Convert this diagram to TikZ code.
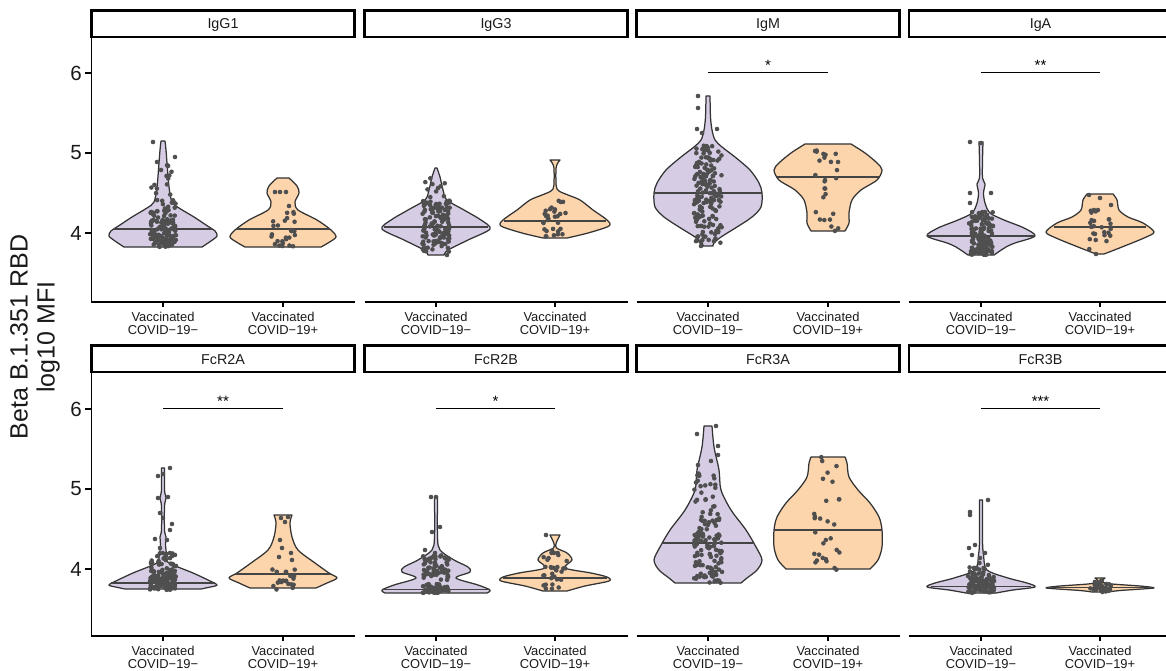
\documentclass[tikz,border=0pt]{standalone}
\usepackage{fontspec}
\setmainfont{Liberation Sans}
\definecolor{vneg}{HTML}{D6CDE5}
\definecolor{vpos}{HTML}{FDD5AD}
\definecolor{vout}{HTML}{333333}
\definecolor{medc}{HTML}{444444}
\definecolor{dotc}{HTML}{4F4F4F}
\definecolor{txt}{HTML}{1A1A1A}
\tikzset{
  violine/.style={draw=vout, line width=1.25pt, line join=round},
  medline/.style={draw=medc, line width=1.1pt},
  axisline/.style={line width=1.4pt, black},
  stripbox/.style={draw=black, line width=2.7pt},
  striptext/.style={font=\fontsize{14.3}{16}\selectfont, text=txt, inner sep=0pt, anchor=base},
  ticklab/.style={font=\fontsize{12.9}{14}\selectfont, text=txt, inner sep=0pt, anchor=base},
  ylab/.style={font=\fontsize{20.5}{22}\selectfont, text=txt, inner sep=0pt, anchor=east},
  sigtext/.style={font=\fontsize{15}{16}\selectfont, inner sep=0pt, anchor=base},
  sigline/.style={line width=1pt, black},
}
% violin: #1 cx, #2 fill, #3 ytop, #4 ybot, #5 right-side coords (w,y), #6 tension
\newcommand\vio[6]{%
  \begin{scope}[shift={(#1,0)}]
    \fill[#2] (-0.5,#3) -- plot[smooth,tension=#6] coordinates {#5} -- (-0.5,#4) -- cycle;
    \fill[#2,xscale=-1] (-0.5,#3) -- plot[smooth,tension=#6] coordinates {#5} -- (-0.5,#4) -- cycle;
    \draw[violine] (0,#3) -- plot[smooth,tension=#6] coordinates {#5} -- (0,#4);
    \draw[violine,xscale=-1] (0,#3) -- plot[smooth,tension=#6] coordinates {#5} -- (0,#4);
  \end{scope}}
\newcommand\med[3]{\draw[medline] ({#1-#3},#2) -- ({#1+#3},#2);}
% jitter: #1 cx, #2 half width, #3 list ytop/ybot/count
\newcommand\jit[3]{%
  \foreach \ya/\yb/\nn in {#3}{%
    \foreach \ii in {1,...,\nn}{%
      \pgfmathsetmacro\xx{#1+#2*rand}%
      \pgfmathsetmacro\yy{\ya+(\yb-\ya)*rnd}%
      \fill[dotc] (\xx,\yy) circle[radius=2.3];
    }}}
\newcommand\pts[1]{\foreach \px/\py in {#1}{\fill[dotc] (\px,\py) circle[radius=2.3];}}
\newcommand\xlab[3]{% #1 cx, #2 axis y, #3 sign
  \node[ticklab] (xl-a-#1-#2) at (#1,{#2+19}) {Vaccinated};
  \node[ticklab] (xl-b-#1-#2) at (#1,{#2+32}) {COVID−19#3};}
\begin{document}
\begin{tikzpicture}[x=1pt,y=-1pt]
\useasboundingbox (0,0) rectangle (1166,671);
\clip (0,0) rectangle (1166,671);
\pgfmathsetseed{4242}

% ---------- strips ----------
\foreach \L/\lab [count=\k] in {91.5/IgG1,364.5/IgG3,636.5/IgM,909/IgA}{
  \draw[stripbox] (\L,10.5) rectangle ({\L+263},37);
  \node[striptext] (s1-\k) at ({\L+131.5},28.8) {\lab};
}
\foreach \L/\lab [count=\k] in {91.5/FcR2A,364.5/FcR2B,636.5/FcR3A,909/FcR3B}{
  \draw[stripbox] (\L,345.5) rectangle ({\L+263},372);
  \node[striptext] (s2-\k) at ({\L+131.5},364.3) {\lab};
}

% ---------- axes ----------
\draw[axisline] (91.5,37) -- (91.5,302) -- (354.5,302);
\draw[axisline] (91.5,372) -- (91.5,636) -- (354.5,636);
\foreach \L in {364.5,636.5,909}{
  \draw[axisline] (\L,302) -- ({\L+263},302);
  \draw[axisline] (\L,636) -- ({\L+263},636);
}
\foreach \y/\v in {73/6,153/5,233/4,409/6,489/5,569/4}{
  \draw[axisline] (85,\y) -- (91.5,\y);
  \node[ylab] (yt-\y) at (82,\y) {\v};
}
\foreach \c in {163,283,436,555,708,828,981,1100}{
  \draw[axisline] (\c,302) -- (\c,306.5);
  \draw[axisline] (\c,636) -- (\c,640.5);
}
\foreach \c/\s in {163/−,283/+,436/−,555/+,708/−,828/+,981/−,1100/+}{
  \xlab{\c}{302}{\s}
  \xlab{\c}{636}{\s}
}
\node[rotate=90, align=center, font=\fontsize{25}{27}\selectfont, text=txt, inner sep=0pt] (ytitle) at (35,337) {Beta B.1.351 RBD\\log10 MFI};

% ---------- violins row 1 ----------
% IgG1
\vio{163}{vneg}{141}{247}{(2,141) (3,150) (4,163) (6,187) (9,202) (16,208) (31,217) (43,225) (52,231) (54,236) (48,241) (39,247)}{0.5}
\med{163}{229}{49}
\vio{283}{vpos}{178}{247}{(6,178) (14,186) (16,193) (12,202) (15,210) (34,220) (48,230) (53,237) (45,243) (38,247)}{0.5}
\med{283}{229}{47}
% IgG3
\vio{436}{vneg}{168}{255}{(1,168) (4,177) (7,190) (11,200) (28,210) (45,220) (54,229) (32,240) (12,250) (8,255)}{0.5}
\med{436}{227}{52}
\vio{555}{vpos}{160}{238}{(5,160) (1.2,167) (1.2,186) (4,191) (13,195) (25,200) (38,210) (52,220) (54,226) (33,233) (12,238)}{0.5}
\med{555}{221}{51}
% IgM
\vio{708}{vneg}{96}{246}{(2,96) (2.5,117) (4,130) (7,140) (14,147) (27,157) (42,170) (51,183) (54,193) (53,207) (44,217) (29,227) (13,237) (6,243) (5,246)}{0.5}
\med{708}{193}{54}
\vio{828}{vpos}{144}{231}{(23,144) (37,153) (49,163) (54,170) (49,180) (33,190) (24,200) (21,213) (21,223) (17,231)}{0.5}
\med{828}{177}{51}
% IgA
\vio{981}{vneg}{142}{255}{(2,142) (1.5,160) (1.5,178) (4,184) (2.5,193) (4,203) (9,213) (23,220) (43,228) (54,236) (34,243) (25,247) (13,255)}{0.5}
\med{981}{236}{54}
\vio{1100}{vpos}{194}{254}{(13,194) (17,200) (19,210) (28,217) (43,223) (54,232) (44,238) (22,247) (4,254)}{0.5}
\med{1100}{227}{46}

% ---------- violins row 2 ----------
% FcR2A
\vio{163}{vneg}{468}{589}{(1.5,468) (1.5,490) (3,498) (1.5,506) (1.5,530) (3,537) (2.5,545) (4,557) (6,563) (30,573) (45,580) (54,585) (45,587.5) (38,589)}{0.5}
\med{163}{583}{52}
\vio{283}{vpos}{515}{588}{(9,515) (7,523) (9,537) (15,550) (32,563) (46,573) (54,578) (44,583) (33,588)}{0.5}
\med{283}{574}{48}
% FcR2B
\vio{436}{vneg}{497}{593}{(1.5,497) (1.5,537) (4,550) (18,560) (32,567) (34,572) (20,578) (42,585) (54,590) (51,593)}{0.5}
\med{436}{589.5}{52}
\vio{555}{vpos}{535}{591}{(5,535) (1.2,543) (1.5,548) (12,553) (17,560) (10,568) (36,573) (52,577) (54,581) (30,586) (12,591)}{0.5}
\med{555}{578}{52}
% FcR3A
\vio{708}{vneg}{426}{583}{(4,426) (6,447) (11,470) (13,490) (23,510) (38,530) (48,547) (54,560) (49,570) (39,578) (33,583)}{0.5}
\med{708}{543}{45}
\vio{828}{vpos}{457}{569}{(17,457) (19,463) (21,477) (30,490) (42,503) (51,517) (54,530) (54,547) (50,560) (42,569)}{0.5}
\med{828}{530}{54}
% FcR3B
\vio{981}{vneg}{500}{593}{(1.5,500) (1.5,540) (2.5,555) (6,570) (27,578) (46,583) (54,587) (32,590) (15,593)}{0.5}
\med{981}{586.5}{50}
\vio{1100}{vpos}{578}{592}{(5,578) (1.5,582) (12,584) (40,586) (54,588) (20,590.5) (8,592)}{0.4}
\med{1100}{587.5}{52}

% ---------- points row 1 ----------
\pts{153/142,175/157,157/162,161/170}
\jit{163}{13}{165/200/12,200/220/28,220/247/95}
\pts{275/192,280/192,286/192,289/206}
\jit{283}{12}{212/232/13,232/247/14}
\jit{436}{14}{175/200/10,200/225/60,225/252/60}
\pts{447/255}
\jit{555}{12}{198/215/11,215/238/20}
\pts{698/96,698/108,697/129,717/129,702/133,701/246}
\jit{708}{14}{145/170/38,170/220/95,220/243/32}
\jit{828}{14}{148/180/13,180/200/6,212/232/8}
\pts{970/142,981/143,970/193,991/193,970/203,985/212}
\jit{981}{12}{212/230/45,230/255/80}
\pts{1089/195,1100/198,1111/205,1094/210,1096/254}
\jit{1100}{11}{210/250/24}

% ---------- points row 2 ----------
\pts{170/468,158/476,163/474,158/498,168/497,160/513,163/518,172/524,170/530,155/539,167/540,160/548,170/553}
\jit{163}{13}{553/570/30,570/590/105}
\pts{281/518,288/517,285/522,280/540,282/548,291/553,279/557,292/560}
\jit{283}{12}{565/590/20}
\pts{431/497,436/497,432/532,440/527,425/550,435/553}
\jit{436}{13}{555/580/65,584/593/50}
\pts{546/535}
\jit{555}{12}{550/565/9,565/592/22}
\pts{697/434,716/426,718/446,718/455,698/465,711/461}
\jit{708}{14}{470/520/30,520/583/105}
\jit{828}{14}{457/500/8,500/540/9,540/570/13}
\pts{988/500,970/512,970/515,975/545,969/548,985/553,972/555,980/558}
\jit{981}{13}{562/578/25,578/593/90}
\jit{1100}{12}{578/583/3,583/592/28}

% ---------- significance ----------
\draw[sigline] (708,73) -- (828,73);
\node[sigtext] (sg1) at (768,71) {*};
\draw[sigline] (981,73) -- (1100,73);
\node[sigtext] (sg2) at (1040.5,71) {**};
\draw[sigline] (163,408.3) -- (283,408.3);
\node[sigtext] (sg3) at (223,406.5) {**};
\draw[sigline] (436,408.3) -- (555,408.3);
\node[sigtext] (sg4) at (495.5,406.5) {*};
\draw[sigline] (981,408.3) -- (1100,408.3);
\node[sigtext] (sg5) at (1040.5,406.5) {***};
\end{tikzpicture}
\end{document}
